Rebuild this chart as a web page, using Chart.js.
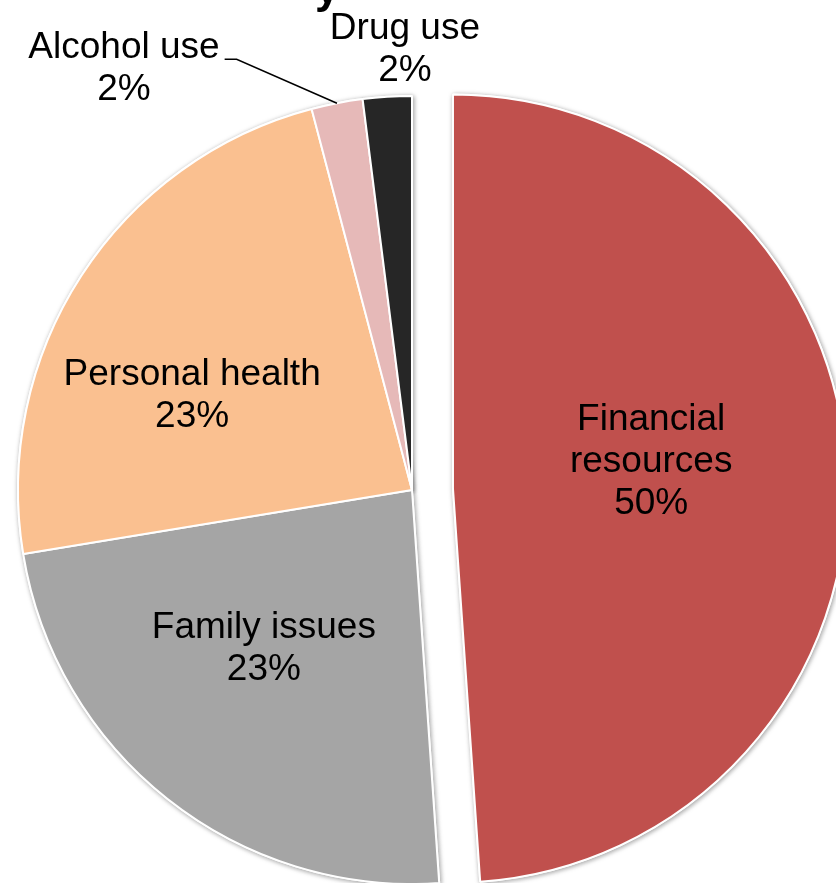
<!DOCTYPE html>
<html><head><meta charset="utf-8">
<script src="https://cdn.jsdelivr.net/npm/chart.js@4/dist/chart.umd.min.js"></script>
<style>html,body{margin:0;padding:0;background:#fff;overflow:hidden}canvas{display:block}</style>
</head><body>
<canvas id="c" width="836" height="883"></canvas>
<script>
// ---- data ----
const categories = ['Financial resources', 'Family issues', 'Personal health', 'Alcohol use', 'Drug use'];
const shares = [48.9, 23.5, 23.5, 2.1, 2.0];
const shareLabels = ['50%', '23%', '23%', '2%', '2%'];
const labelLines = [['Financial', 'resources'], ['Family issues'], ['Personal health'], ['Alcohol use'], ['Drug use']];
const sliceColors = ['#C0504D', '#A5A5A5', '#FAC090', '#E6B9B8', '#262626'];

// ---- layout / style ----
const PIE_RADIUS = 394;
const EXPLODE = [41, 0, 0, 0, 0];
// label anchors in units of radius, relative to each slice's vertex
const LABEL_POS = [[0.503, -0.069], [-0.376, 0.404], [-0.558, -0.239], [-0.731, -1.068], [-0.018, -1.118]];
const LEADER = [false, false, false, true, false];
const FONT = '37px "Liberation Sans", Arial, sans-serif';
const LINE_H = 42;

function sliceShift(arc, i) {
  const h = (arc.startAngle + arc.endAngle) / 2;
  return [Math.cos(h) * EXPLODE[i], Math.sin(h) * EXPLODE[i]];
}

const explodePlugin = {
  id: 'explode',
  afterDatasetsUpdate(chart) {
    chart.getDatasetMeta(0).data.forEach((arc, i) => {
      if (!EXPLODE[i] || arc._patched) return;
      const orig = arc.draw;
      arc.draw = function (ctx, area) {
        const [dx, dy] = sliceShift(this, i);
        ctx.save(); ctx.translate(dx, dy); orig.call(this, ctx, area); ctx.restore();
      };
      arc._patched = true;
    });
  }
};

const shadowPlugin = {
  id: 'shadow',
  beforeDatasetsDraw(chart) {
    const ctx = chart.ctx;
    ctx.save();
    ctx.shadowColor = 'rgba(0,0,0,0.35)';
    ctx.shadowBlur = 5;
    ctx.shadowOffsetX = 1;
    ctx.shadowOffsetY = 1;
    chart.getDatasetMeta(0).data.forEach(arc => arc.draw(ctx, chart.chartArea));
    ctx.restore();
  }
};

const labelPlugin = {
  id: 'sliceLabels',
  afterDatasetsDraw(chart) {
    const ctx = chart.ctx;
    ctx.save();
    ctx.font = FONT;
    ctx.fillStyle = '#000';
    ctx.textAlign = 'center';
    ctx.textBaseline = 'middle';
    chart.getDatasetMeta(0).data.forEach((arc, i) => {
      const [dx, dy] = sliceShift(arc, i);
      const R = arc.outerRadius;
      const cx = arc.x + dx + LABEL_POS[i][0] * R;
      const cy = arc.y + dy + LABEL_POS[i][1] * R;
      const lines = labelLines[i].concat([shareLabels[i]]);
      const y0 = cy - (lines.length - 1) / 2 * LINE_H;
      lines.forEach((t, k) => ctx.fillText(t, cx, y0 + k * LINE_H));
      if (LEADER[i]) {
        const w = ctx.measureText(lines[0]).width;
        const sx = cx + w / 2 + 5, sy = y0 + 11;
        const h = (arc.startAngle + arc.endAngle) / 2;
        const ex = arc.x + dx + Math.cos(h) * R, ey = arc.y + dy + Math.sin(h) * R;
        ctx.beginPath();
        ctx.moveTo(sx, sy); ctx.lineTo(sx + 12, sy); ctx.lineTo(ex, ey);
        ctx.strokeStyle = '#000'; ctx.lineWidth = 1.5; ctx.stroke();
      }
    });
    // cropped title fragment at the top edge
    ctx.font = 'bold 44px "Liberation Sans", Arial, sans-serif';
    ctx.textAlign = 'left';
    ctx.textBaseline = 'alphabetic';
    ctx.fillText('y', 315, 3);
    ctx.restore();
  }
};

new Chart(document.getElementById('c'), {
  type: 'pie',
  data: {
    labels: categories,
    datasets: [{
      data: shares,
      backgroundColor: sliceColors,
      borderColor: '#ffffff',
      borderWidth: 2,
      radius: PIE_RADIUS,
      clip: false
    }]
  },
  options: {
    responsive: false,
    animation: false,
    devicePixelRatio: 1,
    layout: { padding: { left: 0, right: 12, top: 97, bottom: 0 } },
    plugins: { legend: { display: false }, tooltip: { enabled: false }, title: { display: false } }
  },
  plugins: [explodePlugin, shadowPlugin, labelPlugin]
});
</script>
</body></html>
